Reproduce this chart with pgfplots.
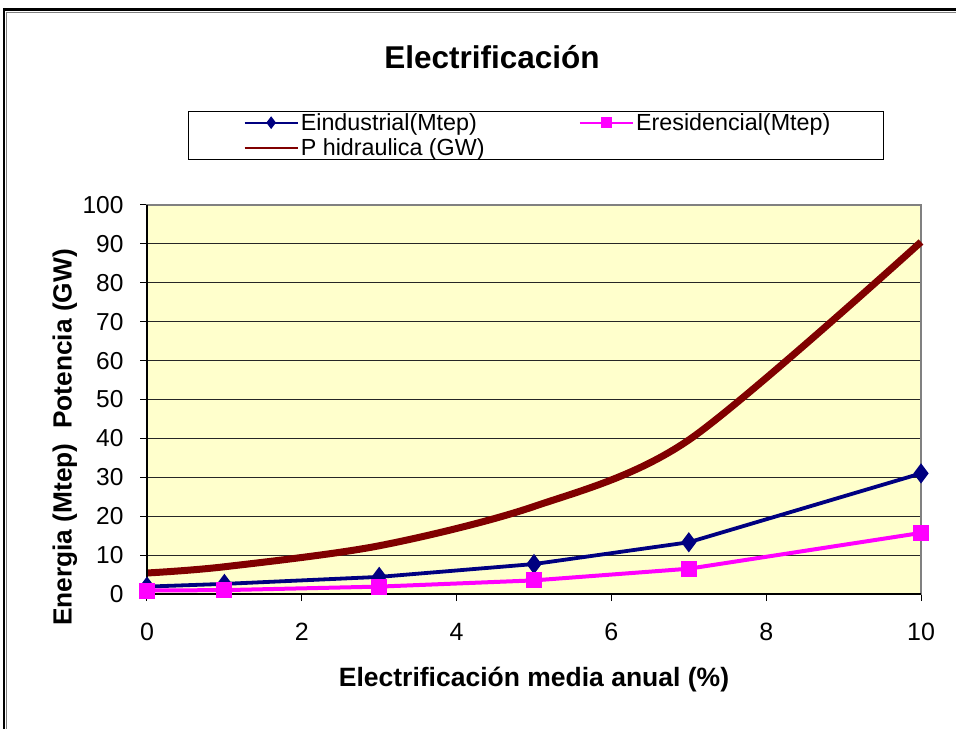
\documentclass[border=0pt]{standalone}
\usepackage{fontspec}
\setmainfont{Liberation Sans}
\usepackage{pgfplots}
\pgfplotsset{compat=1.18}

\definecolor{bgyellow}{HTML}{FFFFCC}
\definecolor{cind}{HTML}{000080}
\definecolor{cres}{HTML}{FF00FF}
\definecolor{chid}{HTML}{800000}

\begin{document}
\begin{tikzpicture}
\begin{axis}[
  at={(0pt,0pt)}, anchor=south west,
  scale only axis, width=774pt, height=389pt,
  xmin=0, xmax=10, ymin=0, ymax=100,
  xtick={0,2,...,10}, ytick={0,10,...,100},
  xtick pos=bottom, ytick pos=left,
  tick align=outside, major tick length=7pt,
  tick style={black, line width=1pt},
  /pgf/number format/assume math mode=true,
  xticklabel style={font=\fontsize{25}{27}\selectfont, yshift=-19pt},
  yticklabel style={font=\fontsize{24.5}{26}\selectfont, xshift=-13pt},
  axis background/.style={fill=bgyellow},
  axis line style={draw=gray, line width=1.2pt},
  ymajorgrids, grid style={black!85, line width=1pt},
  clip=false,
  xlabel={Electrificación media anual (\%)},
  ylabel={Energia (Mtep)\ \ Potencia (GW)},
  x label style={at={(axis description cs:0.5,0)}, anchor=center, yshift=-86pt,
    font=\fontsize{26.5}{28}\selectfont\bfseries},
  y label style={at={(axis description cs:0,0.5)}, anchor=center, xshift=-38pt, yshift=82pt,
    font=\fontsize{26.3}{28}\selectfont\bfseries},
  legend columns=2,
  legend cell align=left,
  legend style={at={(axis description cs:0,1)}, anchor=north west,
    xshift=41pt, yshift=94pt, draw=black, line width=1pt,
    font=\fontsize{23.3}{25}\selectfont, inner xsep=55pt, inner ysep=0pt,
    row sep=3pt, /tikz/column 2/.style={column sep=86pt}},
  legend image code/.code={\draw[mark repeat=2, mark phase=2, line width=2.3pt, mark size=4.5pt]
    plot coordinates {(0pt,0pt) (26.5pt,0pt) (53pt,0pt)};},
]
\addplot[cind, line width=3.8pt, mark=diamond*, mark size=7pt]
  coordinates {(0,1.9) (1,2.6) (3,4.4) (5,7.7) (7,13.3) (10,31.0)};
\addlegendentry{\makebox[190pt][l]{Eindustrial(Mtep)}}
\addplot[cres, line width=4pt, mark=square*, mark size=6pt]
  coordinates {(0,0.9) (1,1.0) (3,1.9) (5,3.5) (7,6.5) (10,15.7)};
\addlegendentry{\makebox[190pt][l]{Eresidencial(Mtep)}}
\addplot[chid, line width=7pt, smooth]
  coordinates {(0,5.4) (1,7.0) (3,12.4) (5,22.5) (7,39.6) (10,90.5)};
\addlegendentry{\makebox[190pt][l]{P hidraulica (GW)}}
\draw[black, line width=1.5pt] (rel axis cs:0,1) -- (rel axis cs:0,0) -- (rel axis cs:1,0);
\end{axis}
\node[font=\fontsize{31.5}{33}\selectfont\bfseries] at (345pt,537pt) {Electrificación};
\pgfresetboundingbox
\useasboundingbox (-147pt,-135pt) rectangle (809pt,594pt);
\draw[line width=3pt] (-144pt,584.5pt) -- (809pt,584.5pt);
\draw[gray, line width=0.8pt] (-140pt,582pt) -- (809pt,582pt);
\draw[line width=1.5pt] (-143pt,586pt) -- (-143pt,-135pt);
\draw[gray, line width=1pt] (-140pt,582pt) -- (-140pt,-135pt);
\end{tikzpicture}
\end{document}
